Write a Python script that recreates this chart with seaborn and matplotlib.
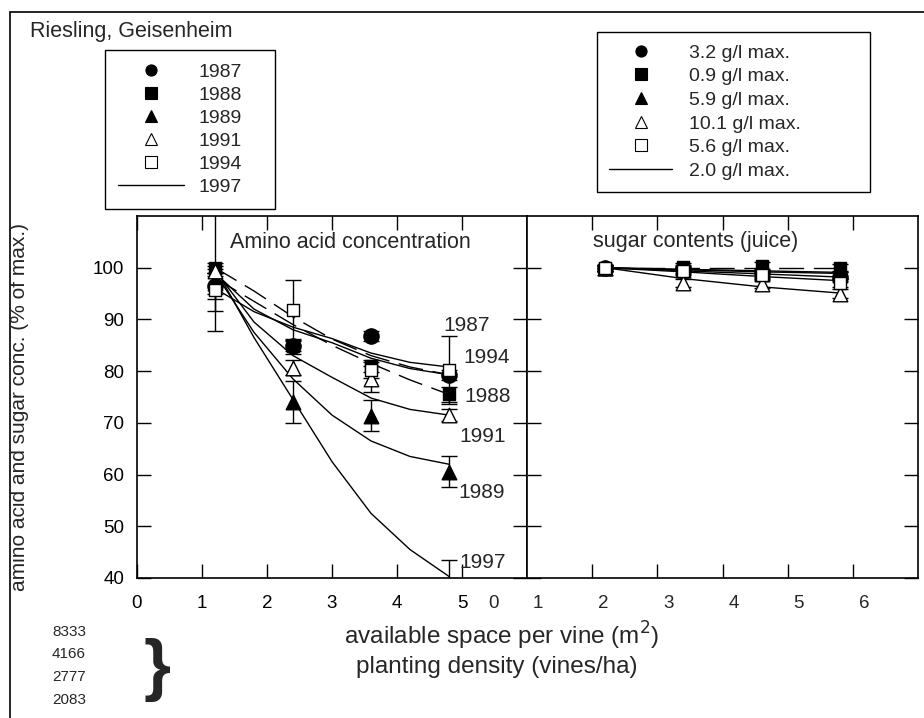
import numpy as np
import pandas as pd
import matplotlib
matplotlib.use("Agg")
import matplotlib.pyplot as plt
import matplotlib.transforms as mtransforms
from matplotlib.lines import Line2D
from matplotlib.patches import Rectangle
import seaborn as sns

# ---------------- data ----------------
x_pts = [1.2, 2.4, 3.6, 4.8]
years = ["1987", "1988", "1989", "1991", "1994", "1997"]
sugar_labels = ["3.2 g/l max.", "0.9 g/l max.", "5.9 g/l max.",
                "10.1 g/l max.", "5.6 g/l max.", "2.0 g/l max."]

# amino acid concentration (% of max.)
amino_1987 = [96.5, 84.8, 86.8, 79.3]
amino_1988 = [100.0, 84.8, 81.0, 75.5]
amino_1989 = [97.0, 74.0, 71.4, 60.5]
amino_1991 = [99.4, 80.7, 78.5, 71.5]
amino_1994 = [95.7, 91.9, 80.2, 80.2]
amino_1997 = [100.0, 74.0, 53.0, 40.3]

amino_err_1987 = [2.5, 1.5, 1.0, 1.0]
amino_err_1988 = [1.0, 1.0, 1.2, 1.5]
amino_err_1989 = [2.0, 4.0, 3.0, 3.0]
amino_err_1991 = [1.0, 1.5, 2.5, 1.2]
amino_err_1994 = [4.0, 5.8, 1.5, 6.5]
amino_err_1997 = [12.2, 0.0, 0.0, 3.2]

# fitted curves
fit_x = [1.2, 1.8, 2.4, 3.0, 3.6, 4.2, 4.8]
amino_fit_1987 = [99.0, 92.0, 88.0, 85.5, 82.5, 80.5, 79.3]
amino_fit_1987b = [100.0, 95.5, 90.5, 86.2, 83.0, 80.8, 79.3]
amino_fit_1988 = [98.0, 93.5, 89.0, 85.0, 81.5, 78.3, 75.5]
amino_fit_1989 = [99.0, 87.5, 78.5, 71.5, 66.5, 63.5, 62.0]
amino_fit_1991 = [99.5, 89.5, 83.0, 78.8, 74.8, 72.6, 71.5]
amino_fit_1994 = [96.0, 91.5, 88.5, 86.3, 83.5, 81.7, 80.8]
amino_fit_1997 = [100.0, 86.5, 74.5, 62.5, 52.5, 45.5, 40.3]

# sugar contents (juice) (% of max.)
sugar_1987 = [100.0, 99.8, 99.0, 98.3]
sugar_1988 = [99.8, 100.2, 100.3, 99.9]
sugar_1989 = [100.0, 99.6, 98.8, 98.6]
sugar_1991 = [100.0, 97.0, 96.9, 95.0]
sugar_1994 = [100.0, 99.4, 98.6, 97.1]
sugar_1997 = [100.0, 99.7, 99.4, 99.1]
sugar_err = [0.6, 0.8, 0.8, 0.8]

sugar_fit_1987 = [100.0, 99.4, 98.8, 98.2]
sugar_fit_1988 = [100.0, 100.0, 100.0, 100.0]
sugar_fit_1989 = [100.0, 99.6, 99.2, 98.9]
sugar_fit_1991 = [100.0, 97.9, 96.3, 95.1]
sugar_fit_1994 = [100.0, 99.2, 98.3, 97.5]
sugar_fit_1997 = [100.0, 99.7, 99.4, 99.1]

curve_labels = ["1987", "1994", "1988", "1991", "1989", "1997"]
density_labels = ["8333", "4166", "2777", "2083"]
x_tick_labels = ["0", "1", "2", "3", "4", "5"]
x2_tick_labels = ["0", "1", "2", "3", "4", "5", "6"]
y_ticks = [40, 50, 60, 70, 80, 90, 100]

# ---------------- style ----------------
sns.set_style("white")
plt.rcParams["font.family"] = ["Liberation Sans", "DejaVu Sans"]

W, H = 924, 718
fig = plt.figure(figsize=(W / 100, H / 100), dpi=100)

def fx(px):
    return px / W

def fy(py):
    return 1 - py / H

ax1 = fig.add_axes([fx(137), fy(578), fx(527) - fx(137), (578 - 216) / H])
ax2 = fig.add_axes([fx(527), fy(578), fx(918) - fx(527), (578 - 216) / H])

markers = {
    "1988": dict(marker="s", facecolor="black", s=80),
    "1987": dict(marker="o", facecolor="black", s=120),
    "1989": dict(marker="^", facecolor="black", s=110),
    "1991": dict(marker="^", facecolor="white", s=110),
    "1994": dict(marker="s", facecolor="white", s=85),
}

dash = (0, (18, 7))

amino_vals = dict(zip(years, [amino_1987, amino_1988, amino_1989, amino_1991, amino_1994, amino_1997]))
amino_errs = dict(zip(years, [amino_err_1987, amino_err_1988, amino_err_1989,
                              amino_err_1991, amino_err_1994, amino_err_1997]))
sugar_vals = dict(zip(years, [sugar_1987, sugar_1988, sugar_1989, sugar_1991, sugar_1994, sugar_1997]))

amino_fits = [
    (amino_fit_1987, "-"), (amino_fit_1987b, dash), (amino_fit_1988, dash),
    (amino_fit_1989, "-"), (amino_fit_1991, "-"), (amino_fit_1994, "-"),
    (amino_fit_1997, "-"),
]
sugar_fits = [
    (sugar_fit_1987, "-"), (sugar_fit_1988, dash), (sugar_fit_1989, "-"),
    (sugar_fit_1991, "-"), (sugar_fit_1994, "-"), (sugar_fit_1997, "-"),
]

# ---- fitted lines ----
for vals, ls in amino_fits:
    sns.lineplot(x=fit_x, y=vals, ax=ax1, color="black", linewidth=1.0,
                 linestyle=ls, zorder=2)
for vals, ls in sugar_fits:
    sns.lineplot(x=x_pts, y=vals, ax=ax2, color="black", linewidth=1.0,
                 linestyle=ls, zorder=2)

# ---- error bars ----
for yr in years:
    xs = [x for x, e in zip(x_pts, amino_errs[yr]) if e > 0]
    ys = [v for v, e in zip(amino_vals[yr], amino_errs[yr]) if e > 0]
    es = [e for e in amino_errs[yr] if e > 0]
    ax1.errorbar(xs, ys, yerr=es, fmt="none", ecolor="black", elinewidth=1.0,
                 capsize=6, capthick=1.0, zorder=2.5)
    if yr != "1997":
        ax2.errorbar(x_pts, sugar_vals[yr], yerr=sugar_err, fmt="none", ecolor="black",
                     elinewidth=1.0, capsize=6, capthick=1.0, zorder=2.5)

# ---- markers ----
for i, (yr, st) in enumerate(markers.items()):
    for ax, vals in ((ax1, amino_vals[yr]), (ax2, sugar_vals[yr])):
        sns.scatterplot(x=x_pts, y=vals, ax=ax, marker=st["marker"], s=st["s"],
                        color=st["facecolor"], edgecolor="black", linewidth=1.0,
                        zorder=3 + 0.1 * i)

# ---- axes formatting ----
for ax in (ax1, ax2):
    ax.set_xlim(0, 6)
    ax.set_ylim(40, 110)
    ax.set_xlabel("")
    ax.set_ylabel("")
    for sp in ax.spines.values():
        sp.set_linewidth(1.2)
        sp.set_color("black")
    ax.tick_params(direction="in", length=10, width=1.0, colors="black",
                   top=True, right=True, left=True, bottom=True)

ax1.set_xticks([0, 1, 2, 3, 4, 5])
ax1.set_xticklabels(x_tick_labels, fontsize=13.5)
ax1.tick_params(axis="x", pad=12)
ax1.set_yticks(y_ticks)
ax1.set_yticklabels([str(v) for v in y_ticks], fontsize=13.5)
ax1.tick_params(axis="y", pad=9)

ax2.set_xticks([1, 2, 3, 4, 5])
ax2.set_xticklabels([])
ax2.set_yticks(y_ticks)
ax2.set_yticklabels([])

# right panel x labels (shifted as in the original)
x2_label_pos = [-0.52, 0.17, 1.17, 2.17, 3.17, 4.17, 5.17]
trans2 = mtransforms.blended_transform_factory(ax2.transData, fig.transFigure)
for pos, lab in zip(x2_label_pos, x2_tick_labels):
    ax2.text(pos, fy(604), lab, transform=trans2, ha="center", va="center",
             fontsize=13.5, clip_on=False)

# panel titles
ax1.text(fx(350), fy(242), "Amino acid concentration", transform=fig.transFigure,
         ha="center", va="center", fontsize=15.5)
ax2.text(fx(696), fy(242), "sugar contents (juice)", transform=fig.transFigure,
         ha="center", va="center", fontsize=15.5)

# curve year annotations
ann_pos = [(467, 325), (487, 357), (488, 397), (483, 436), (482, 493), (483, 563)]
for (px, py), lab in zip(ann_pos, curve_labels):
    fig.text(fx(px), fy(py), lab, ha="center", va="center", fontsize=15)

# ---- legends ----
def handles():
    hs = []
    for yr in years[:5]:
        st = markers[yr]
        hs.append(Line2D([], [], linestyle="none", marker=st["marker"], markersize=8,
                         markerfacecolor=st["facecolor"], markeredgecolor="black",
                         markeredgewidth=0.8))
    hs.append(Line2D([], [], color="black", linewidth=1.0))
    return hs

leg1 = fig.legend(handles(), years, loc="upper left",
                  bbox_to_anchor=(fx(105), fy(50), fx(275) - fx(105), 0.0),
                  mode="expand", frameon=True, fancybox=False, shadow=False,
                  edgecolor="black", framealpha=1, fontsize=14, handlelength=3.4,
                  handletextpad=0.72, labelspacing=0.28, borderpad=0.68,
                  borderaxespad=0)
leg1.get_frame().set_linewidth(1.0)

leg2 = fig.legend(handles(), sugar_labels, loc="upper left",
                  bbox_to_anchor=(fx(597), fy(32), fx(870) - fx(597), 0.0),
                  mode="expand", frameon=True, fancybox=False, shadow=False,
                  edgecolor="black", framealpha=1, fontsize=14, handlelength=3.25,
                  handletextpad=0.88, labelspacing=0.31, borderpad=0.62,
                  borderaxespad=0)
leg2.get_frame().set_linewidth(1.0)

# ---- texts ----
fig.text(fx(30), fy(32), "Riesling, Geisenheim", ha="left", va="center", fontsize=15.5)
fig.text(fx(20), fy(407), "amino acid and sugar conc. (% of max.)", rotation=90,
         ha="center", va="center", fontsize=15)
fig.text(fx(502), fy(636), "available space per vine (m$^{2}$)", ha="center",
         va="center", fontsize=17.5)
fig.text(fx(497), fy(667), "planting density (vines/ha)", ha="center",
         va="center", fontsize=17.5)
dens_y = [632, 654, 677, 700]
for py, lab in zip(dens_y, density_labels):
    fig.text(fx(86), fy(py), lab, ha="right", va="center", fontsize=11)
fig.text(fx(157), fy(670), "}", ha="center", va="center", fontsize=50,
         fontweight="bold")

# outer frame (top and left edges visible)
fig.patches.append(Rectangle((fx(10), -0.1), 1.2, fy(12) + 0.1, transform=fig.transFigure,
                             fill=False, edgecolor="black", linewidth=1.2))

fig.savefig("out.png", dpi=100)
